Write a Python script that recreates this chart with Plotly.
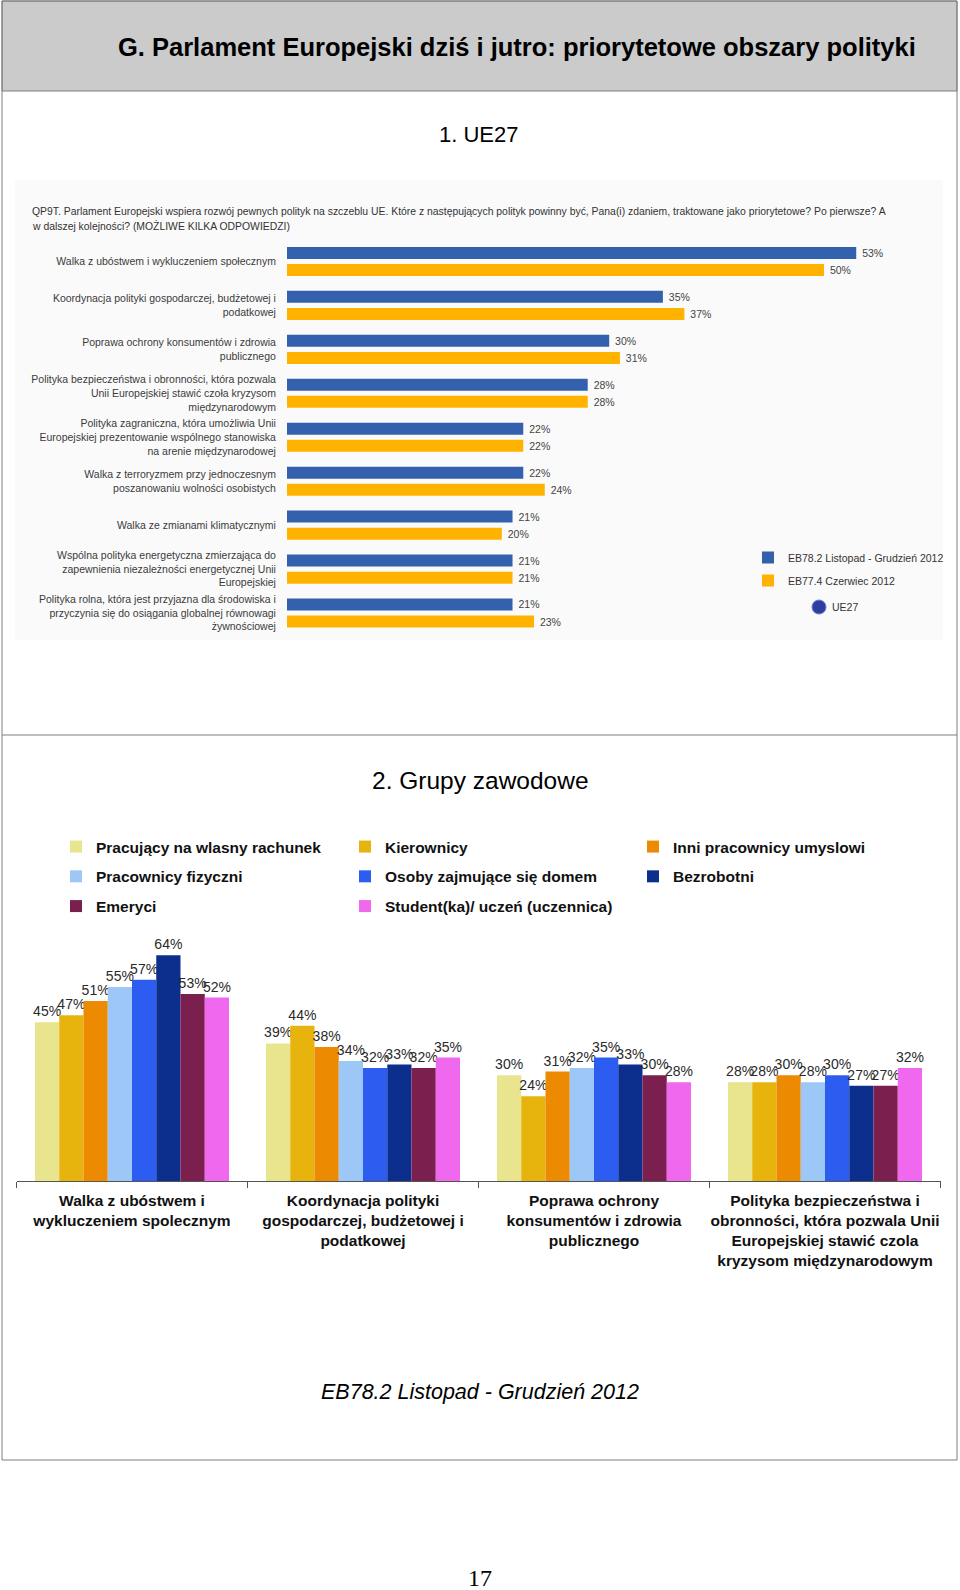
import plotly.graph_objects as go

W, H = 960, 1590

# ---------------- data: chart 1 (UE27) ----------------
policies = [
    "Walka z ubóstwem i wykluczeniem społecznym",
    "Koordynacja polityki gospodarczej, budżetowej i<br>podatkowej",
    "Poprawa ochrony konsumentów i zdrowia<br>publicznego",
    "Polityka bezpieczeństwa i obronności, która pozwala<br>Unii Europejskiej stawić czoła kryzysom<br>międzynarodowym",
    "Polityka zagraniczna, która umożliwia Unii<br>Europejskiej prezentowanie wspólnego stanowiska<br>na arenie międzynarodowej",
    "Walka z terroryzmem przy jednoczesnym<br>poszanowaniu wolności osobistych",
    "Walka ze zmianami klimatycznymi",
    "Wspólna polityka energetyczna zmierzająca do<br>zapewnienia niezależności energetycznej Unii<br>Europejskiej",
    "Polityka rolna, która jest przyjazna dla środowiska i<br>przyczynia się do osiągania globalnej równowagi<br>żywnościowej",
]
eb782_values = [53, 35, 30, 28, 22, 22, 21, 21, 21]
eb774_values = [50, 37, 31, 28, 22, 24, 20, 21, 23]
wave_names = ["EB78.2 Listopad - Grudzień 2012", "EB77.4 Czerwiec 2012"]

# ---------------- data: chart 2 (grupy zawodowe) ----------------
areas = [
    "Walka z ubóstwem i<br>wykluczeniem spolecznym",
    "Koordynacja polityki<br>gospodarczej, budżetowej i<br>podatkowej",
    "Poprawa ochrony<br>konsumentów i zdrowia<br>publicznego",
    "Polityka bezpieczeństwa i<br>obronności, która pozwala Unii<br>Europejskiej stawić czola<br>kryzysom międzynarodowym",
]
groups = [
    "Pracujący na wlasny rachunek",
    "Kierownicy",
    "Inni pracownicy umyslowi",
    "Pracownicy fizyczni",
    "Osoby zajmujące się domem",
    "Bezrobotni",
    "Emeryci",
    "Student(ka)/ uczeń (uczennica)",
]
group_values = [
    [45, 39, 30, 28],
    [47, 44, 24, 28],
    [51, 38, 31, 30],
    [55, 34, 32, 28],
    [57, 32, 35, 30],
    [64, 33, 33, 27],
    [53, 32, 30, 27],
    [52, 35, 28, 32],
]

# ---------------- styling ----------------
group_colors = ["#E9E58E", "#E6B40C", "#EC8A02", "#9DC7F6",
                "#2C5CF0", "#0C2F8E", "#7A1F4E", "#F068EE"]
wave_colors = ["#3461AE", "#FFB300"]
FONT = "Arial, Liberation Sans, sans-serif"


def px(x):
    return x / W


def py(y):
    return 1 - y / H


fig = go.Figure()

# ---- chart 1 traces ----
cat_idx = list(range(len(policies)))
for k, (vals, name, col, off) in enumerate(zip(
        [eb782_values, eb774_values], wave_names, wave_colors, [-0.331, 0.058])):
    fig.add_trace(go.Bar(
        y=cat_idx, x=vals, orientation="h", name=name,
        marker=dict(color=col, line=dict(width=0)),
        width=0.273, offset=off,
        text=[f" {v}%" for v in vals], textposition="outside",
        textfont=dict(size=10.5, color="#444444", family=FONT),
        constraintext="none", cliponaxis=False,
        xaxis="x", yaxis="y", legend="legend", legendgroup=f"w{k}",
        hoverinfo="skip",
    ))

# ---- chart 2 traces ----
legend_of = ["legend2", "legend3", "legend4", "legend2", "legend3", "legend4", "legend2", "legend3"]
for k, (name, vals, col) in enumerate(zip(groups, group_values, group_colors)):
    fig.add_trace(go.Bar(
        x=areas, y=vals, name=name,
        marker=dict(color=col, line=dict(width=0)),
        text=[f"{v}%" for v in vals], textposition="outside",
        textfont=dict(size=14, color="#2a2a2a", family=FONT),
        constraintext="none", cliponaxis=False,
        xaxis="x2", yaxis="y2", legend=legend_of[k], legendgroup=f"g{k}",
        hoverinfo="skip",
    ))

# ---- axes ----
fig.update_layout(
    xaxis=dict(domain=[px(287), px(930)], range=[0, (930 - 287) / 10.74],
               visible=False, fixedrange=True, automargin=False),
    yaxis=dict(domain=[py(635), py(239.5)], range=[8.5, -0.5],
               tickmode="array", tickvals=cat_idx, ticktext=policies,
               tickfont=dict(size=10.5, color="#3a3a3a", family=FONT),
               ticks="outside", ticklen=8, tickcolor="rgba(0,0,0,0)",
               showline=False, showgrid=False, zeroline=False, anchor="x",
               automargin=False),
    xaxis2=dict(domain=[px(16.5), px(940.5)], type="category",
                categoryorder="array", categoryarray=areas, tickangle=0,
                tickfont=dict(size=15.5, color="#111111", family=FONT, weight="bold"),
                showline=True, linecolor="#555555", linewidth=1,
                ticks="outside", tickson="boundaries", ticklen=6, tickcolor="#555555",
                ticklabelstandoff=5,
                showgrid=False, zeroline=False, anchor="y2", automargin=False),
    yaxis2=dict(domain=[py(1181), py(934)], range=[0, 70], visible=False, anchor="x2",
                automargin=False),
    barmode="group", bargap=0.16, bargroupgap=0,
)

# ---- legends ----
leg_common = dict(bgcolor="rgba(0,0,0,0)", borderwidth=0, orientation="v",
                  xanchor="left", yanchor="top", traceorder="grouped",
                  itemclick=False, itemdoubleclick=False)
big_leg_font = dict(size=15.5, color="#111111", family=FONT, weight="bold")
fig.update_layout(
    legend=dict(x=px(748), y=py(543), font=dict(size=10.5, color="#333333", family=FONT),
                tracegroupgap=4, **leg_common),
    legend2=dict(x=px(56), y=py(830), font=big_leg_font, tracegroupgap=6.6, **leg_common),
    legend3=dict(x=px(345), y=py(830), font=big_leg_font, tracegroupgap=6.6, **leg_common),
    legend4=dict(x=px(633), y=py(830), font=big_leg_font, tracegroupgap=6.6, **leg_common),
)

# ---- frame shapes ----
shapes = [
    dict(type="rect", xref="paper", yref="paper", x0=px(15), x1=px(943), y0=py(640), y1=py(180),
         fillcolor="#fafafa", line=dict(width=0), layer="below"),
    dict(type="rect", xref="paper", yref="paper", x0=px(2), x1=px(957), y0=py(1460), y1=py(1),
         fillcolor="rgba(0,0,0,0)", line=dict(color="#7f7f7f", width=1), layer="above"),
    dict(type="rect", xref="paper", yref="paper", x0=px(2), x1=px(957), y0=py(91), y1=py(1),
         fillcolor="#cbcbcb", line=dict(color="#7f7f7f", width=1), layer="below"),
    dict(type="line", xref="paper", yref="paper", x0=px(2), x1=px(957), y0=py(735), y1=py(735),
         line=dict(color="#7f7f7f", width=1)),
    dict(type="circle", xref="paper", yref="paper", x0=px(812), x1=px(826), y0=py(614), y1=py(600),
         fillcolor="#2e3f9e", line=dict(color="#6c7bd0", width=1)),
]
fig.update_layout(shapes=shapes)

# ---- texts ----
ann = [
    dict(text="<b>G. Parlament Europejski dziś i jutro: priorytetowe obszary polityki</b>",
         x=px(517), y=py(47), font=dict(size=25.5, color="#000000", family=FONT)),
    dict(text="1. UE27", x=px(479), y=py(135), font=dict(size=22, color="#000000", family=FONT)),
    dict(text="2. Grupy zawodowe", x=px(480), y=py(780), font=dict(size=24.5, color="#000000", family=FONT)),
    dict(text="QP9T. Parlament Europejski wspiera rozwój pewnych polityk na szczeblu UE. Które z następujących polityk powinny być, Pana(i) zdaniem, traktowane jako priorytetowe? Po pierwsze? A",
         x=px(30), y=py(212), xanchor="left", font=dict(size=10.4, color="#333333", family=FONT)),
    dict(text="w dalszej kolejności? (MOŻLIWE KILKA ODPOWIEDZI)",
         x=px(30), y=py(226), xanchor="left", font=dict(size=10.4, color="#333333", family=FONT)),
    dict(text="UE27", x=px(830), y=py(607), xanchor="left", font=dict(size=10.5, color="#333333", family=FONT)),
    dict(text="<i>EB78.2 Listopad - Grudzień 2012</i>", x=px(480), y=py(1392),
         font=dict(size=21.5, color="#000000", family=FONT)),
    dict(text="17", x=px(480), y=py(1578), font=dict(size=24, color="#000000",
                                                  family="Times New Roman, Liberation Serif, serif")),
]
for a in ann:
    a.setdefault("xanchor", "center")
    a.update(xref="paper", yref="paper", yanchor="middle", showarrow=False)
fig.update_layout(annotations=ann)

fig.update_layout(
    width=W, height=H, margin=dict(l=0, r=0, t=0, b=0, autoexpand=False),
    paper_bgcolor="#ffffff", plot_bgcolor="rgba(0,0,0,0)",
    font=dict(family=FONT), showlegend=True,
)

fig.write_html("out.html", config={"displayModeBar": False},
               post_script="document.body.style.margin='0';document.body.style.overflow='hidden';")
